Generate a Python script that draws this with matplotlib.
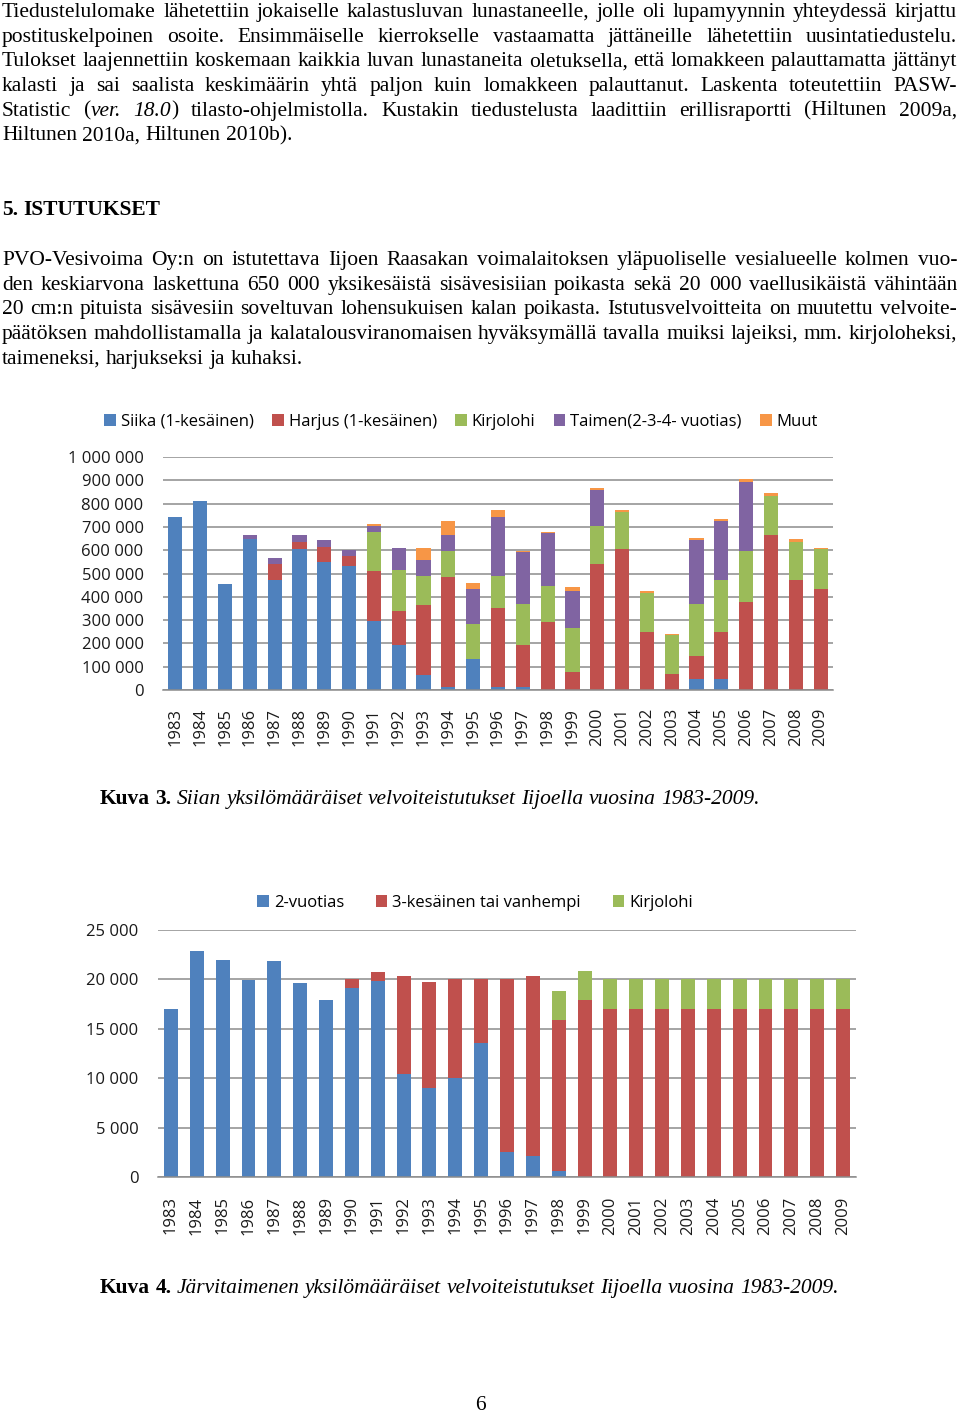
import numpy as np
import matplotlib
matplotlib.use("Agg")
import matplotlib.pyplot as plt

W, H = 960, 1416

years = [str(y) for y in range(1983, 2010)]

# Kuva 3: siian velvoiteistutukset (kpl)
siika = [744000, 810000, 454000, 647000, 473000, 605000, 548000, 534000,
         298000, 192000, 63000, 11000, 131000, 11000, 11000, 0,
         0, 0, 0, 0, 0, 46000, 46000, 0, 0, 0, 0]
harjus = [0, 0, 0, 0, 67000, 32000, 67000, 39000,
          211000, 147000, 302000, 473000, 0, 342000, 180000, 291000,
          77000, 541000, 604000, 248000, 70000, 99000, 202000, 376000, 665000, 472000, 433000]
kirjolohi = [0, 0, 0, 0, 0, 0, 0, 0,
             169000, 177000, 126000, 114000, 152000, 138000, 179000, 156000,
             187000, 163000, 162000, 168000, 165000, 225000, 225000, 222000, 167000, 163000, 172000]
taimen = [0, 0, 0, 20000, 26000, 30000, 27000, 28000,
          27000, 94000, 69000, 67000, 149000, 251000, 223000, 225000,
          163000, 156000, 0, 0, 0, 274000, 251000, 295000, 0, 0, 0]
muut = [0, 0, 0, 0, 0, 0, 0, 0,
        6000, 0, 50000, 59000, 27000, 32000, 5000, 6000,
        15000, 6000, 8000, 11000, 6000, 10000, 11000, 13000, 13000, 13000, 6000]
labels1 = ["Siika (1-kesäinen)", "Harjus (1-kesäinen)", "Kirjolohi",
           "Taimen(2-3-4- vuotias)", "Muut"]

# Kuva 4: järvitaimenen velvoiteistutukset (kpl)
vuotias2 = [17050, 22850, 21950, 19900, 21850, 19600, 17950, 19100,
            19850, 10400, 9050, 10050, 13600, 2500, 2150, 570,
            0, 0, 0, 0, 0, 0, 0, 0, 0, 0, 0]
kesainen3 = [0, 0, 0, 0, 0, 0, 0, 900,
             900, 9900, 10650, 9950, 6400, 17500, 18150, 15300,
             17950, 17000, 17000, 17000, 17000, 17000, 17000, 17000, 17000, 17000, 17000]
kirjolohi2 = [0, 0, 0, 0, 0, 0, 0, 0,
              0, 0, 0, 0, 0, 0, 0, 2930,
              2950, 3000, 3000, 3000, 3000, 3000, 3000, 3000, 3000, 3000, 3000]
labels2 = ["2-vuotias", "3-kesäinen tai vanhempi", "Kirjolohi"]

colors = ["#4F81BD", "#C0504D", "#9BBB59", "#8064A2", "#F79646"]
GRID = "#8c8c8c"
SERIF = "Liberation Serif"
SANS = "Open Sans"
FS = 15.5

fig = plt.figure(figsize=(W / 100, H / 100), dpi=100)
renderer = fig.canvas.get_renderer()


def split_words(segs):
    words = [[]]
    for txt, st in segs:
        parts = txt.split(" ")
        for k, p in enumerate(parts):
            if k > 0:
                words.append([])
            if p:
                words[-1].append((p, st))
    return [w for w in words if w]


def draw_line(segs, y, justify=True, x0=2, x1=957, size=FS):
    words = split_words(segs)
    arts, widths = [], []
    for w in words:
        pieces, tw = [], 0
        for p, st in w:
            t = fig.text(0, 0, p, fontsize=size, family=SERIF,
                         style="italic" if st == "i" else "normal",
                         weight="bold" if st == "b" else "normal",
                         va="baseline", ha="left")
            pieces.append((t, tw))
            tw += t.get_window_extent(renderer).width
        arts.append(pieces)
        widths.append(tw)
    if justify and len(words) > 1:
        gap = (x1 - x0 - sum(widths)) / (len(words) - 1)
    else:
        gap = 0.25 * size * 100 / 72
    x = x0
    for pieces, w in zip(arts, widths):
        for t, off in pieces:
            t.set_position(((x + off) / W, 1 - y / H))
        x += w + gap


para1 = [
    [("Tiedustelulomake lähetettiin jokaiselle kalastusluvan lunastaneelle, jolle oli lupamyynnin yhteydessä kirjattu", "n")],
    [("postituskelpoinen osoite. Ensimmäiselle kierrokselle vastaamatta jättäneille lähetettiin uusintatiedustelu.", "n")],
    [("Tulokset laajennettiin koskemaan kaikkia luvan lunastaneita oletuksella, että lomakkeen palauttamatta jättänyt", "n")],
    [("kalasti ja sai saalista keskimäärin yhtä paljon kuin lomakkeen palauttanut. Laskenta toteutettiin PASW-", "n")],
    [("Statistic (", "n"), ("ver. 18.0", "i"), (") tilasto-ohjelmistolla. Kustakin tiedustelusta laadittiin erillisraportti (Hiltunen 2009a,", "n")],
]
for i, segs in enumerate(para1):
    draw_line(segs, 17 + i * 24.7)
draw_line([("Hiltunen 2010a, Hiltunen 2010b).", "n")], 17 + 5 * 24.7, justify=False)

draw_line([("5. ISTUTUKSET", "b")], 215, justify=False)

para2 = [
    "PVO-Vesivoima Oy:n on istutettava Iijoen Raasakan voimalaitoksen yläpuoliselle vesialueelle kolmen vuo-",
    "den keskiarvona laskettuna 650 000 yksikesäistä sisävesisiian poikasta sekä 20 000 vaellusikäistä vähintään",
    "20 cm:n pituista sisävesiin soveltuvan lohensukuisen kalan poikasta. Istutusvelvoitteita on muutettu velvoite-",
    "päätöksen mahdollistamalla ja kalatalousviranomaisen hyväksymällä tavalla muiksi lajeiksi, mm. kirjoloheksi,",
]
for i, line in enumerate(para2):
    draw_line([(line, "n")], 265 + i * 24.7)
draw_line([("taimeneksi, harjukseksi ja kuhaksi.", "n")], 265 + 4 * 24.7, justify=False)

draw_line([("Kuva 3.", "b"), (" Siian yksilömääräiset velvoiteistutukset Iijoella vuosina 1983-2009.", "i")],
          804, justify=False, x0=100)
draw_line([("Kuva 4.", "b"), (" Järvitaimenen yksilömääräiset velvoiteistutukset Iijoella vuosina 1983-2009.", "i")],
          1293, justify=False, x0=100)
fig.text(480 / W, 1 - 1405 / H, "6", fontsize=FS, family=SERIF, ha="center", va="center")


def style_axes(ax, ymax, step):
    ax.set_xlim(-0.5, len(years) - 0.5)
    ax.set_ylim(0, ymax)
    ticks = np.arange(0, ymax + 1, step)
    ax.set_yticks(ticks)
    ax.set_yticklabels([f"{int(v):,}".replace(",", " ") for v in ticks])
    ax.set_xticks(np.arange(len(years)))
    ax.set_xticklabels(years, rotation=90)
    ax.grid(axis="y", color=GRID, linewidth=1.1)
    ax.set_axisbelow(True)
    for s in ["top", "left", "right"]:
        ax.spines[s].set_visible(False)
    ax.spines["bottom"].set_color(GRID)
    ax.spines["bottom"].set_linewidth(1.1)
    ax.tick_params(axis="both", length=0, labelsize=12, colors="#1a1a1a")
    ax.tick_params(axis="y", pad=14)
    for lab in ax.get_xticklabels() + ax.get_yticklabels():
        lab.set_family(SANS)


# Kuva 3
ax1 = fig.add_axes([163 / W, 1 - 690 / H, 670 / W, 233 / H])
x = np.arange(len(years))
bottom = np.zeros(len(years))
for vals, col, lab in zip([siika, harjus, kirjolohi, taimen, muut], colors, labels1):
    ax1.bar(x, vals, 0.57, bottom=bottom, color=col, label=lab, linewidth=0)
    bottom += np.array(vals)
style_axes(ax1, 1000000, 100000)
ax1.tick_params(axis="x", pad=13)
ax1.legend(loc="center", bbox_to_anchor=(461 / W, 1 - 422 / H), bbox_transform=fig.transFigure,
           ncol=5, frameon=False, prop={"family": SANS, "size": 12},
           handlelength=0.7, handleheight=0.7, handletextpad=0.3, columnspacing=1.1,
           borderaxespad=0, borderpad=0)

# Kuva 4
ax2 = fig.add_axes([158 / W, 1 - 1177 / H, 698 / W, 247 / H])
bottom = np.zeros(len(years))
for vals, col, lab in zip([vuotias2, kesainen3, kirjolohi2], colors, labels2):
    ax2.bar(x, vals, 0.54, bottom=bottom, color=col, label=lab, linewidth=0)
    bottom += np.array(vals)
style_axes(ax2, 25000, 5000)
ax2.tick_params(axis="x", pad=14)
ax2.legend(loc="center", bbox_to_anchor=(475 / W, 1 - 903 / H), bbox_transform=fig.transFigure,
           ncol=3, frameon=False, prop={"family": SANS, "size": 12},
           handlelength=0.7, handleheight=0.7, handletextpad=0.3, columnspacing=1.9,
           borderaxespad=0, borderpad=0)

fig.savefig("out.png", dpi=100)
